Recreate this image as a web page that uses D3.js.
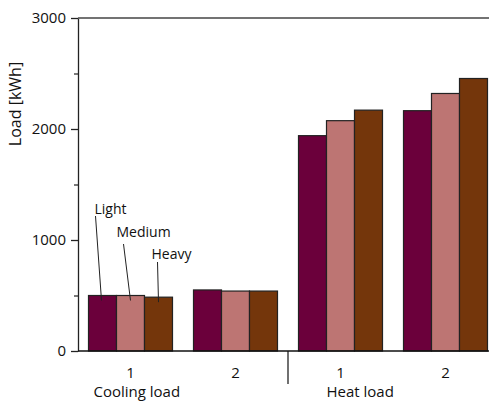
<!DOCTYPE html>
<html>
<head>
	<meta charset="utf-8">
	<script src="https://cdn.jsdelivr.net/npm/d3@7"></script>
	<title>Cooling and heat load</title>
	<style type="text/css">
		body { margin: 0; background: #fff; }
		text { font-family: "Open Sans", "Noto Sans", sans-serif; fill: #111; }
	</style>
</head>
<body>
	<script>
		// data
		var groups = ['c1', 'c2', 'h1', 'h2'];
		var groupLabels = ['1', '2', '1', '2'];
		var series = ['Light', 'Medium', 'Heavy'];
		var light = [500, 550, 1940, 2165];
		var medium = [500, 540, 2075, 2320];
		var heavy = [485, 540, 2170, 2455];
		var yTicks = [0, 1000, 2000, 3000];
		var yMinorTicks = [500, 1500, 2500];

		var svgWidth = 489;
		var svgHeight = 403;
		var axisX = 78;
		var yTop = 18;
		var yBottom = 351;
		var colors = ['#6b003b', '#bd7573', '#74360b'];

		var values = [light, medium, heavy];

		var svg = d3.select('body')
			.append('svg')
			.attr('width', svgWidth)
			.attr('height', svgHeight);

		var yScale = d3.scaleLinear()
			.domain([0, 3000])
			.range([yBottom, yTop]);

		var xScale = d3.scaleBand()
			.domain(groups)
			.range([axisX, axisX + 420])
			.paddingInner(0.2)
			.paddingOuter(0.1);

		var x1Scale = d3.scaleBand()
			.domain(series)
			.range([0, xScale.bandwidth()]);

		// bars
		var groupG = svg.selectAll('g.group')
			.data(groups)
			.enter()
			.append('g')
			.attr('class', 'group')
			.attr('transform', function (d) { return 'translate(' + xScale(d) + ',0)'; });

		groupG.selectAll('rect')
			.data(function (d, gi) {
				return series.map(function (s, si) { return { s: s, si: si, v: values[si][gi] }; });
			})
			.enter()
			.append('rect')
			.attr('x', function (d) { return x1Scale(d.s); })
			.attr('y', function (d) { return yScale(d.v); })
			.attr('width', x1Scale.bandwidth())
			.attr('height', function (d) { return yBottom - yScale(d.v); })
			.attr('fill', function (d) { return colors[d.si]; })
			.attr('stroke', '#222')
			.attr('stroke-width', 1.2);

		// y axis
		var yAxis = svg.append('g')
			.attr('transform', 'translate(' + axisX + ',0)')
			.call(d3.axisLeft(yScale).tickValues(yTicks).tickFormat(d3.format('d'))
				.tickSize(7).tickPadding(5).tickSizeOuter(0));
		yAxis.attr('font-family', null).attr('font-size', null);
		yAxis.selectAll('text').style('font-size', '15px').attr('fill', '#111');
		yAxis.selectAll('line, path').attr('stroke', '#222').attr('stroke-width', 1.3);

		var yMinor = svg.append('g')
			.attr('transform', 'translate(' + axisX + ',0)')
			.call(d3.axisLeft(yScale).tickValues(yMinorTicks).tickSize(4).tickFormat('').tickSizeOuter(0));
		yMinor.select('path').remove();
		yMinor.selectAll('line').attr('stroke', '#222').attr('stroke-width', 1.2);

		// top and bottom frame lines
		svg.append('line')
			.attr('x1', axisX).attr('x2', svgWidth)
			.attr('y1', yScale(3000)).attr('y2', yScale(3000))
			.attr('stroke', '#444').attr('stroke-width', 1.3);
		svg.append('line')
			.attr('x1', axisX).attr('x2', svgWidth)
			.attr('y1', yBottom).attr('y2', yBottom)
			.attr('stroke', '#111').attr('stroke-width', 1.6);

		// y label
		svg.append('text')
			.attr('transform', 'translate(21,104) rotate(-90)')
			.attr('text-anchor', 'middle')
			.style('font-size', '16px')
			.text('Load [kWh]');

		// x tick labels
		svg.selectAll('text.xlab')
			.data(groups)
			.enter()
			.append('text')
			.attr('class', 'xlab')
			.attr('x', function (d) { return xScale(d) + xScale.bandwidth() / 2; })
			.attr('y', 378)
			.attr('text-anchor', 'middle')
			.style('font-size', '15px')
			.text(function (d, i) { return groupLabels[i]; });

		// separator between cooling and heat
		var sepX = (xScale('c2') + xScale.bandwidth() + xScale('h1')) / 2;
		svg.append('line')
			.attr('x1', sepX).attr('x2', sepX)
			.attr('y1', yBottom).attr('y2', 384)
			.attr('stroke', '#111').attr('stroke-width', 1.2);

		svg.append('text')
			.attr('x', xScale('c1') + 5)
			.attr('y', 397)
			.style('font-size', '15px')
			.text('Cooling load');
		svg.append('text')
			.attr('x', xScale('h1') + 28)
			.attr('y', 397)
			.style('font-size', '15px')
			.text('Heat load');

		// annotations on the first group
		var notes = [
			{ dx: -8, ty: 214, ly: 216, lx: 1 },
			{ dx: -14, ty: 237, ly: 244, lx: 7 },
			{ dx: -7, ty: 259, ly: 262, lx: 6 }
		];
		series.forEach(function (s, i) {
			var cx = xScale('c1') + x1Scale(s) + x1Scale.bandwidth() / 2;
			var n = notes[i];
			svg.append('line')
				.attr('x1', cx + n.dx + n.lx).attr('y1', n.ly)
				.attr('x2', cx - (i === 0 ? 1 : 0)).attr('y2', yScale(values[i][0]) + 5)
				.attr('stroke', '#222').attr('stroke-width', 1);
			svg.append('text')
				.attr('x', cx + n.dx)
				.attr('y', n.ty)
				.style('font-size', '14px')
				.text(s);
		});
	</script>
</body>
</html>
